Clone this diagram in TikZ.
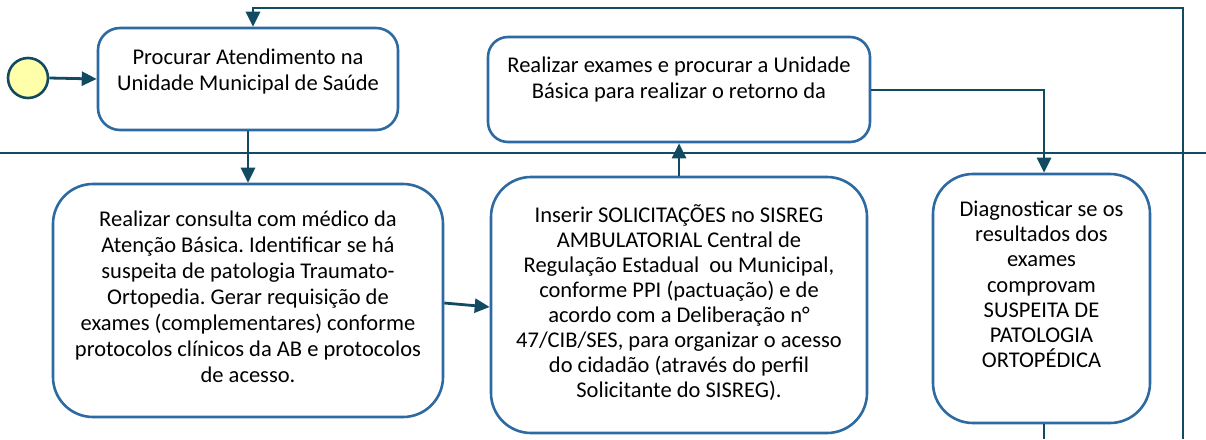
\documentclass[tikz,border=0pt]{standalone}
\usepackage{fontspec}
\setmainfont{Carlito}
\usetikzlibrary{arrows.meta}
\definecolor{lanecol}{RGB}{18,74,98}
\definecolor{boxcol}{RGB}{46,106,162}
\definecolor{startfill}{RGB}{255,255,170}
\tikzset{
  taskbox/.style={draw=boxcol, line width=2.6pt, rounded corners=22pt, fill=white, inner sep=0pt},
  tasktext/.style={align=center, inner sep=0pt, font=\frenchspacing\fontsize{22.5}{26}\selectfont, anchor=north},
  tighttext/.style={tasktext, font=\frenchspacing\fontsize{22.5}{25.1}\selectfont},
  flow/.style={draw=lanecol, line width=2.8pt, -{Triangle[length=15pt,width=14pt]}},
  plain/.style={draw=lanecol, line width=2.8pt},
}
\begin{document}
\begin{tikzpicture}[x=1pt,y=-1pt]
\useasboundingbox (0,0) rectangle (1206,439);
% lane separator
\draw[plain] (0,153) -- (1206,153);
% start
\node[circle, draw=lanecol, line width=2.6pt, fill=startfill, minimum size=40pt, inner sep=0pt] (start) at (28,78) {};
% boxes
\node[taskbox, minimum width=300pt, minimum height=102pt] (b1) at (248,79) {};
\node[tasktext] (t1) at (248,49) {Procurar Atendimento na\\Unidade Municipal de Saúde};
\node[taskbox, minimum width=382pt, minimum height=105pt, rounded corners=20pt] (b4) at (679,89.5) {};
\node[tasktext] (t4) at (679,57) {Realizar exames e procurar a Unidade\\Básica para realizar o retorno da};
\node[taskbox, minimum width=390pt, minimum height=233pt, rounded corners=40pt] (b2) at (248,300.5) {};
\node[tasktext] (t2) at (248,211) {Realizar consulta com médico da\\Atenção Básica. Identificar se há\\suspeita de patologia Traumato-\\Ortopedia. Gerar requisição de\\exames (complementares) conforme\\protocolos clínicos da AB e protocolos\\de acesso.};
\node[taskbox, minimum width=376pt, minimum height=256pt, rounded corners=40pt] (b3) at (679,305) {};
\node[tighttext] (t3) at (679,204) {Inserir SOLICITAÇÕES no SISREG\\AMBULATORIAL Central de\\Regulação Estadual\ \ ou Municipal,\\conforme PPI (pactuação) e de\\acordo com a Deliberação n°\\47/CIB/SES, para organizar o acesso\\do cidadão (através do perfil\\Solicitante do SISREG).};
\node[taskbox, minimum width=217pt, minimum height=249pt, rounded corners=40pt] (b5) at (1041.5,298.5) {};
\node[tighttext] (t5) at (1041.5,201) {Diagnosticar se os\\resultados dos\\exames\\comprovam\\SUSPEITA DE\\PATOLOGIA\\ORTOPÉDICA};
% helper coordinates
\coordinate (loopR) at (1183,439);
\coordinate (loopTR) at (1183,8);
\coordinate (loopTL) at (253,8);
\coordinate (b5out) at (1044,439);
\coordinate (b4turn) at (1044,90);
% connectors
\draw[flow] (start.east) -- (b1.west);
\draw[flow] (loopR) -- (loopTR) -- (loopTL) -- (b1.north -| loopTL);
\draw[flow] (b1.south) -- (b2.north);
\draw[flow] (b2.east |- 0,303) -- (b3.west |- 0,307);
\draw[flow] (b3.north) -- (b4.south);
\draw[flow] (b4.east |- b4turn) -- (b4turn) -- (b5.north -| b4turn);
\draw[plain] (b5.south -| b5out) -- (b5out);
\end{tikzpicture}
\end{document}
